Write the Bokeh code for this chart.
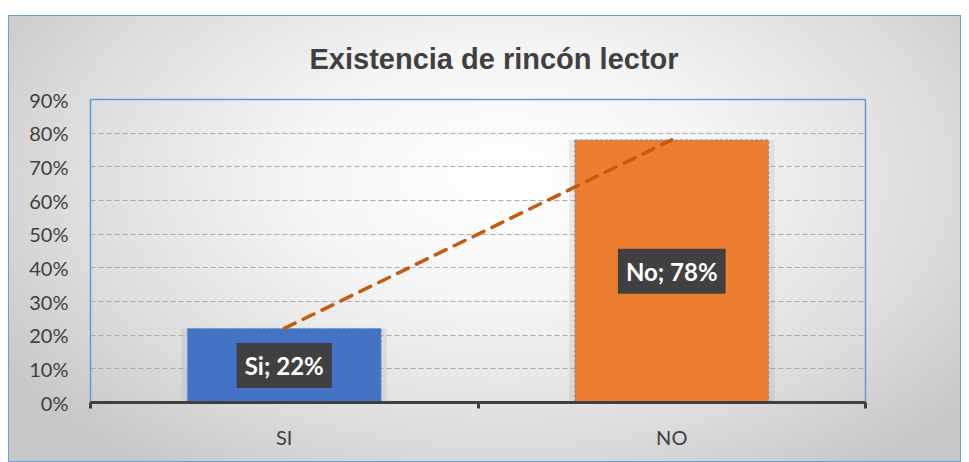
import numpy as np
from bokeh.plotting import figure
from bokeh.models import Range1d, FixedTicker, NumeralTickFormatter, Label
from bokeh.embed import file_html
from bokeh.resources import INLINE

# ---- data ----
categories = ["SI", "NO"]
label_names = ["Si", "No"]
values = [0.22, 0.78]
y_ticks = [0.0, 0.1, 0.2, 0.3, 0.4, 0.5, 0.6, 0.7, 0.8, 0.9]
bar_colors = ["#4472C4", "#ED7D31"]
title_text = "Existencia de rincón lector"

xs = [i + 0.5 for i in range(len(categories))]

p = figure(width=953, height=447, output_backend="svg", toolbar_location=None,
           x_range=Range1d(0, len(categories)), y_range=Range1d(0, 0.9),
           min_border_left=82, min_border_right=96, min_border_top=84, min_border_bottom=60,
           title=title_text)
p.styles = {
    "margin-top": "15px",
    "margin-left": "8px",
    "background": "radial-gradient(ellipse 62% 80% at 52% 36%, #ffffff 0%, #f5f5f5 35%, #dcdcdc 75%, #c8c8c8 100%)",
    "outline": "1.5px solid #6A9FD8",
    "outline-offset": "-1px",
}
p.background_fill_alpha = 0
p.border_fill_alpha = 0
p.outline_line_color = "#5B9BD5"
p.outline_line_width = 1.5

p.title.align = "left"
p.title.offset = 219
p.title.text_font = "Liberation Sans"
p.title.text_font_size = "29px"
p.title.text_font_style = "bold"
p.title.text_color = "#404040"
p.title.standoff = 49

# grid
p.xgrid.grid_line_color = None
p.ygrid.ticker = FixedTicker(ticks=y_ticks)
p.ygrid.grid_line_color = "#aaaaaa"
p.ygrid.grid_line_dash = "5 3"
p.ygrid.grid_line_width = 1

# y axis
p.yaxis.ticker = FixedTicker(ticks=y_ticks)
p.yaxis.formatter = NumeralTickFormatter(format="0%")
p.yaxis.axis_line_color = None
p.yaxis.major_tick_line_color = None
p.yaxis.minor_tick_line_color = None
p.yaxis.major_tick_out = 0
p.yaxis.major_tick_in = 0
p.yaxis.major_label_standoff = 22
p.yaxis.major_label_text_font = "Lato"
p.yaxis.major_label_text_font_size = "20px"
p.yaxis.major_label_text_color = "#404040"

# x axis: labels at category centres, ticks at boundaries
p.xaxis.ticker = FixedTicker(ticks=xs, minor_ticks=list(range(len(categories) + 1)))
p.xaxis.major_label_overrides = {x: c for x, c in zip(xs, categories)}
p.xaxis.axis_line_color = "#404040"
p.xaxis.axis_line_width = 3
p.xaxis.major_tick_line_color = None
p.xaxis.major_tick_out = 0
p.xaxis.major_tick_in = 0
p.xaxis.minor_tick_line_color = "#404040"
p.xaxis.minor_tick_line_width = 3
p.xaxis.minor_tick_out = 6
p.xaxis.minor_tick_in = 0
p.xaxis.major_label_standoff = 16
p.xaxis.major_label_text_font = "Lato"
p.xaxis.major_label_text_font_size = "20px"
p.xaxis.major_label_text_color = "#404040"

# bars (soft shadow behind, then bars)
p.vbar(x=xs, top=values, width=0.53, bottom=0, fill_color="#9a9a9a", fill_alpha=0.18,
       line_color=None)
p.vbar(x=xs, top=values, width=0.5, bottom=0, fill_color=bar_colors,
       line_color="#5B9BD5", line_dash="3 2", line_width=1)

# linear trend line
coef = np.polyfit(xs, values, 1)
trend = np.polyval(coef, xs)
p.line(x=xs, y=trend, line_color="#C55A11", line_width=3.5, line_dash="12 9",
       line_cap="round")

# data labels
for x, v, n in zip(xs, values, label_names):
    txt = f"{n}; {round(v * 100)}%"
    shadow = Label(x=x, y=v / 2, text=txt, text_align="center", text_baseline="middle",
                   text_font="Lato", text_font_size="24px", text_font_style="bold",
                   text_alpha=0, x_offset=4, y_offset=-4,
                   background_fill_color="black", background_fill_alpha=0.25,
                   padding=8)
    lab = Label(x=x, y=v / 2, text=txt, text_align="center", text_baseline="middle",
                text_font="Lato", text_font_size="24px", text_font_style="bold",
                text_color="white",
                background_fill_color="#404040", background_fill_alpha=1.0,
                padding=8)
    p.add_layout(shadow)
    p.add_layout(lab)

open("out.html", "w").write(file_html(p, INLINE))
